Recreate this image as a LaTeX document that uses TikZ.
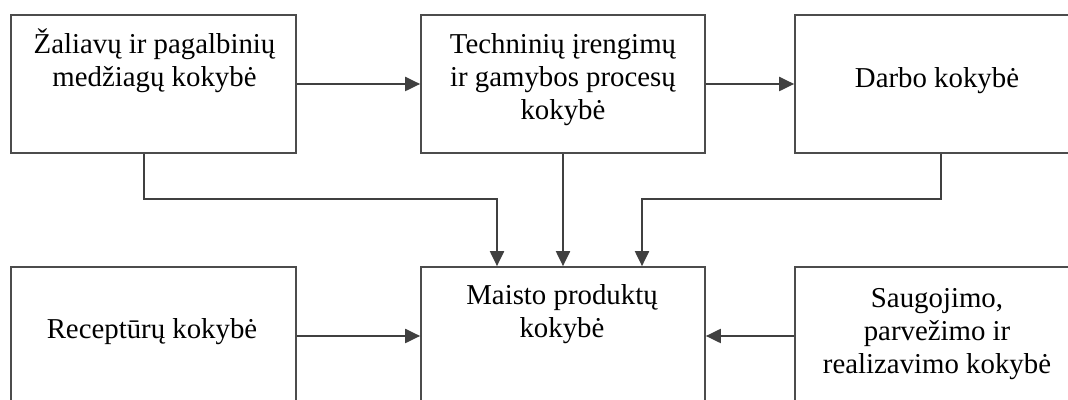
\documentclass[tikz,border=0pt]{standalone}
\usepackage{fontspec}
\setmainfont{Liberation Serif}
\usepackage{tikz}
\usetikzlibrary{arrows.meta}

\begin{document}
\begin{tikzpicture}[
	box/.style={draw=black!70, line width=1pt, minimum width=5.7cm, minimum height=2.76cm, inner sep=0pt},
	txt/.style={align=center, anchor=base, inner sep=0pt, font=\fontsize{16.4}{18.8}\selectfont},
	arr/.style={draw=black!75, line width=1pt, -{Triangle[length=8.5pt,width=8pt]}}
]

\useasboundingbox (0,0) rectangle (21.36,8);
\clip (0,0) rectangle (21.36,8);

% upper row
\node[box] (zal) at (3.07,6.32) {};
\node[box, minimum width=5.68cm] (tech) at (11.26,6.32) {};
\node[box] (darb) at (18.75,6.32) {};

% lower row
\node[box] (rec) at (3.07,1.28) {};
\node[box, minimum width=5.68cm] (maist) at (11.26,1.28) {};
\node[box] (saug) at (18.75,1.28) {};

% texts (base = last line)
\node[txt] (zaltxt) at (3.09,6.26) {Žaliavų ir pagalbinių\\medžiagų kokybė};
\node[txt] (techtxt) at (11.26,5.6) {Techninių įrengimų\\ir gamybos procesų\\kokybė};
\node[txt] (darbtxt) at (18.74,6.24) {Darbo kokybė};
\node[txt] (rectxt) at (3.04,1.22) {Receptūrų kokybė};
\node[txt] (maisttxt) at (11.24,1.24) {Maisto produktų\\kokybė};
\node[txt] (saugtxt) at (18.74,0.53) {Saugojimo,\\parvežimo ir\\realizavimo kokybė};

\draw[arr] (zal.east)--(tech.west);
\draw[arr] (tech.east)--(darb.west);

\draw[arr] ([xshift=-0.19cm]zal.south)--++(0,-0.9) -| ([xshift=-1.32cm]maist.north);
\draw[arr] (tech.south)--(maist.north);
\draw[arr] ([xshift=0.07cm]darb.south)--++(0,-0.9) -| ([xshift=1.58cm]maist.north);

\draw[arr] (rec.east)--(maist.west);
\draw[arr] (saug.west)--(maist.east);

\end{tikzpicture}
\end{document}
